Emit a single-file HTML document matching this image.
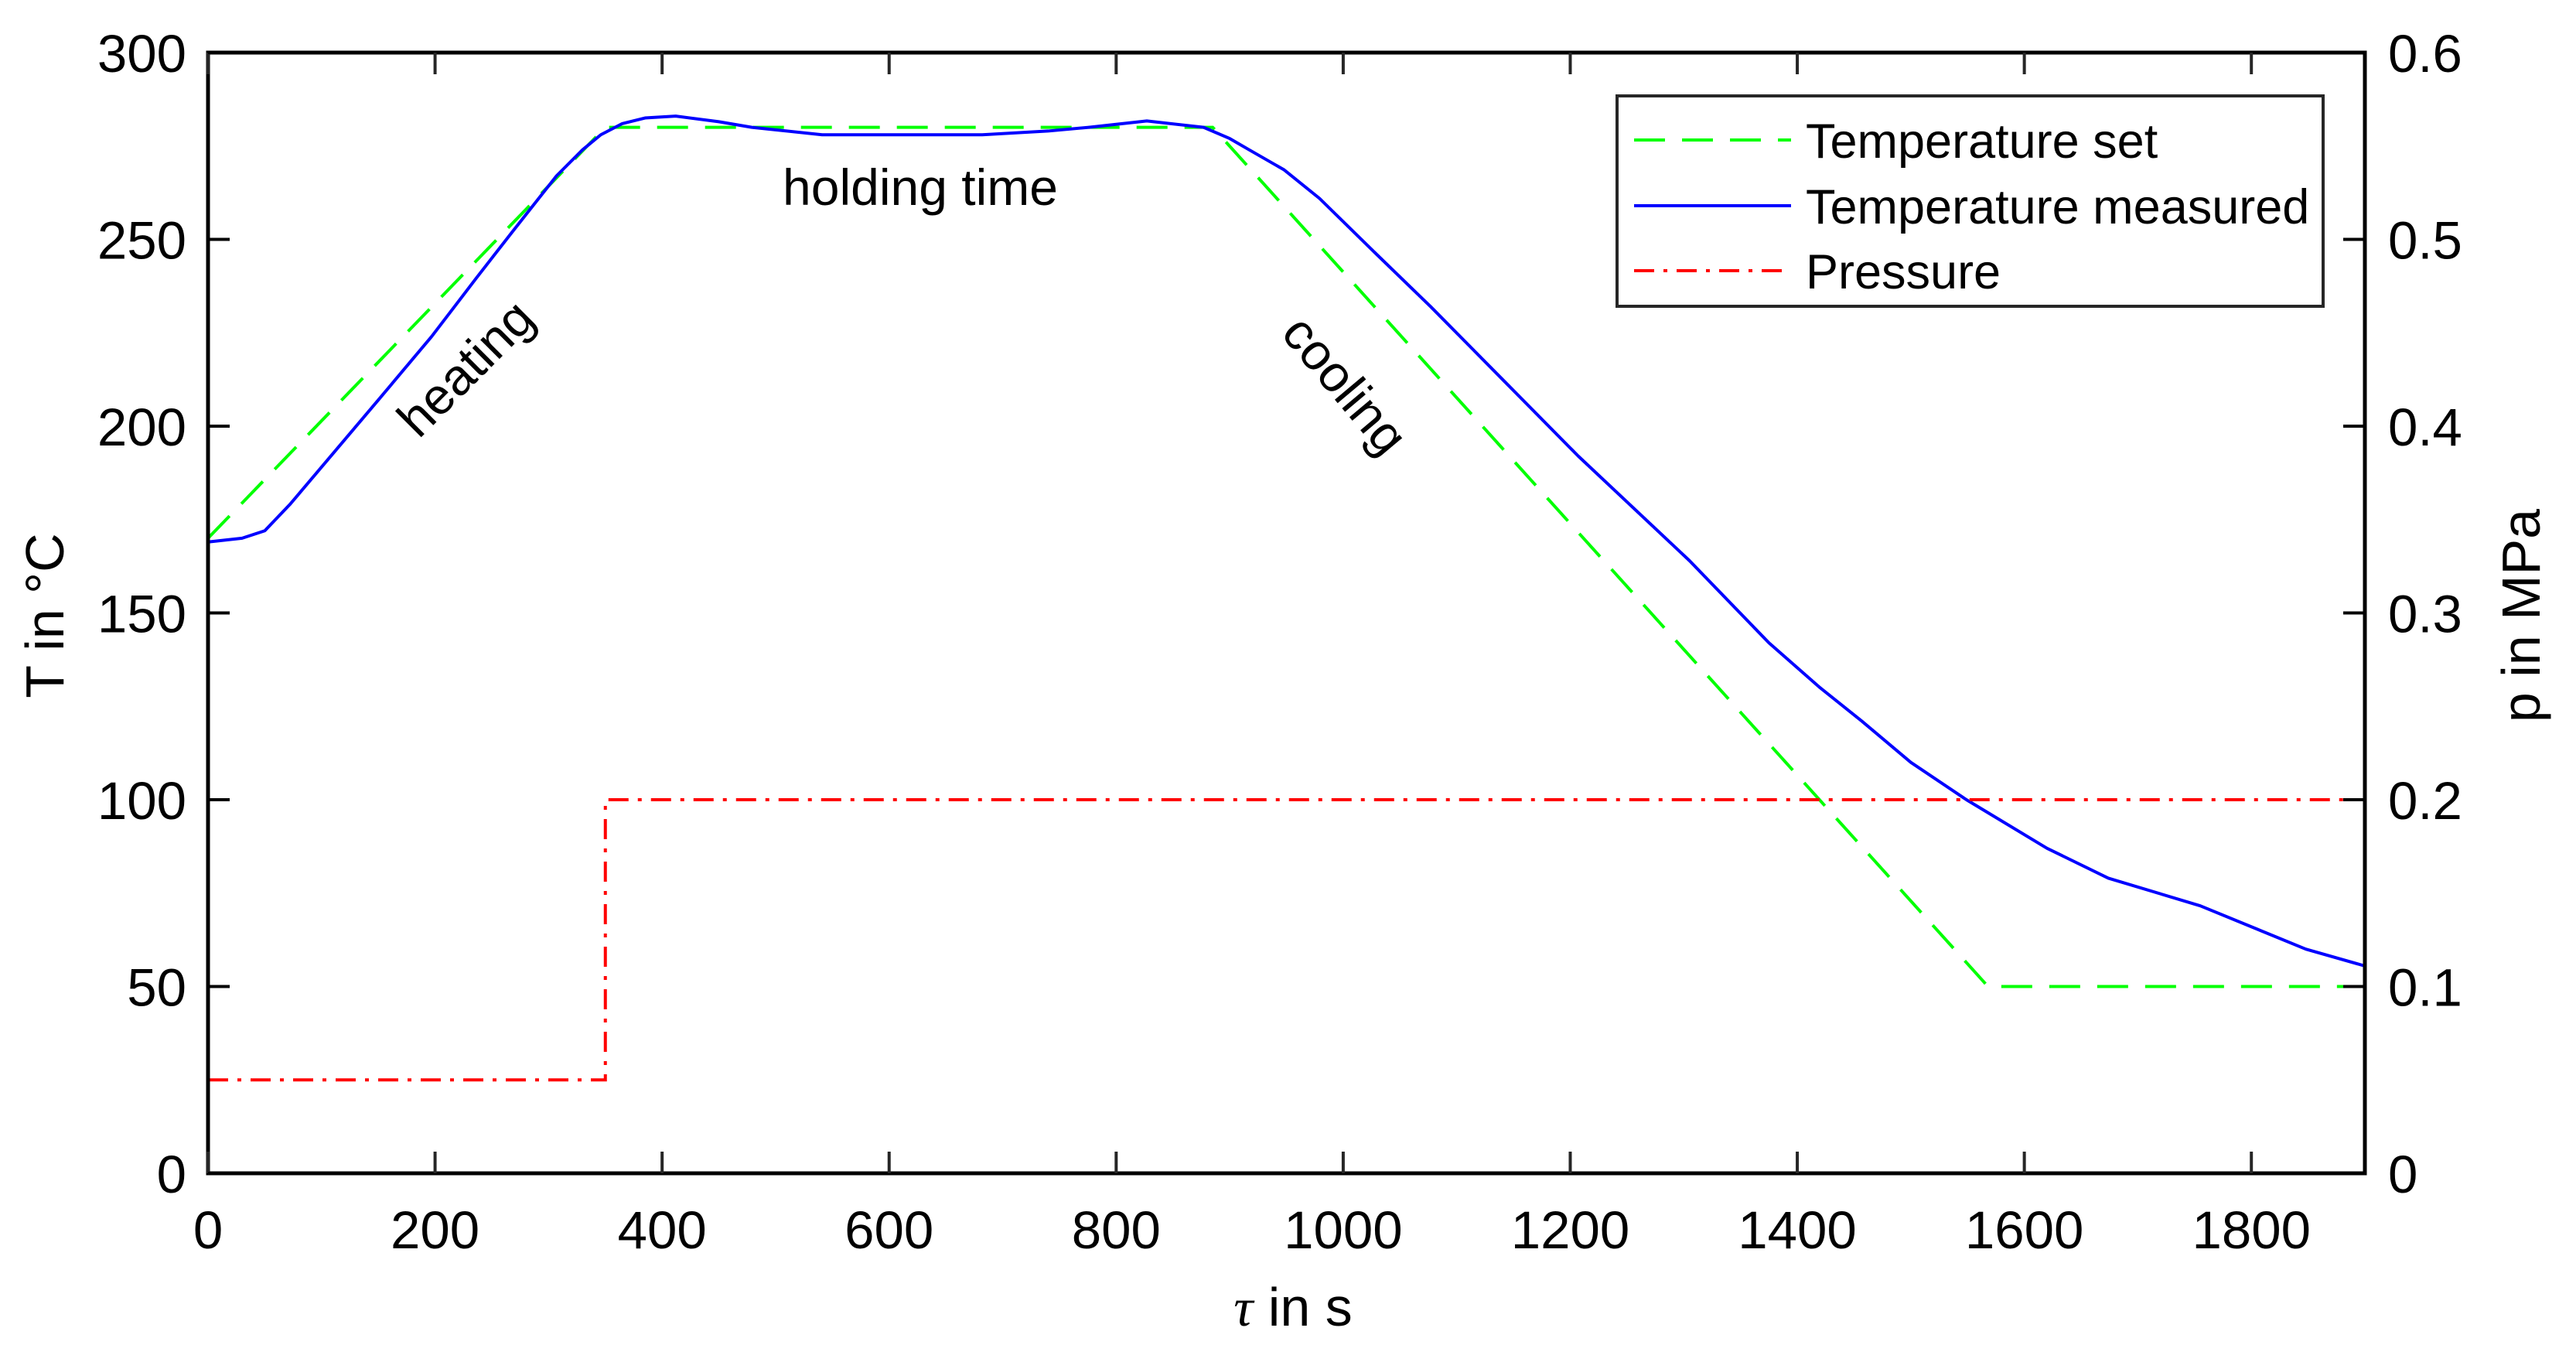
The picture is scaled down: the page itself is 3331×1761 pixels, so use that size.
<!DOCTYPE html>
<html><head><meta charset="utf-8"><style>html,body{margin:0;padding:0;background:#fff}svg{display:block}text{font-family:"Liberation Sans",sans-serif;fill:#000}</style></head>
<body>
<svg id="chart" width="3331" height="1761" xmlns="http://www.w3.org/2000/svg"></svg>
<script>
const setTime=[0,350,885,1568,1900];
const setTemp=[170,280,280,50,50];
const measTime=[0,30,50,72,111,150,197,236,268,307,330,346,365,385,412,450,479,541,600,682,740,776,827,877,900,917,948,979,1026,1077,1142,1207,1305,1375,1420,1457,1500,1549,1620,1674,1755,1848,1900];
const measTemp=[169,170,172,179,193,207,224,239.5,252,267,274,278,281,282.5,283,281.5,280,278,278,278,279,280,281.7,280,277,274,268.6,261,247,232,212,192,164,142,130,121,110,100,87,79,71.6,60,55.5];
const presTime=[0,350,350,1900];
const presVal=[0.05,0.05,0.2,0.2];
const xTicks=[0,200,400,600,800,1000,1200,1400,1600,1800];
const yTicks=[0,50,100,150,200,250,300];
const y2Ticks=[0,0.1,0.2,0.3,0.4,0.5,0.6];
const L=269,R=3058,T=68,B=1517;
const xs=v=>L+v/1900*(R-L), ys=v=>B-v/300*(B-T), y2s=v=>B-v/0.6*(B-T);
const svg=document.getElementById('chart');const NS='http://www.w3.org/2000/svg';
function mk(tag,attrs,parent){const e=document.createElementNS(NS,tag);for(const k in attrs)e.setAttribute(k,attrs[k]);(parent||svg).appendChild(e);return e;}
function txt(s,attrs){const e=mk('text',attrs);e.textContent=s;return e;}
let d=setTime.map((t,i)=>(i?'L':'M')+xs(t)+','+ys(setTemp[i])).join('');
let e=mk('path',{d:d,fill:'none',stroke:'#00ff00','stroke-width':4,'stroke-dasharray':'40,22'});


d=measTime.map((t,i)=>(i?'L':'M')+xs(t)+','+ys(measTemp[i])).join('');
e=mk('path',{d:d,fill:'none',stroke:'#0000ff','stroke-width':4,'stroke-linejoin':'round'});


d=presTime.map((t,i)=>(i?'L':'M')+xs(t)+','+y2s(presVal[i])).join('');
e=mk('path',{d:d,fill:'none',stroke:'#ff0000','stroke-width':4,'stroke-dasharray':'26,12,5,12'});


e=mk('rect',{x:L,y:T,width:R-L,height:B-T,fill:'none',stroke:'#000','stroke-width':5});


xTicks.forEach(v=>{const x=xs(v);mk('line',{x1:x,x2:x,y1:B,y2:B-28,stroke:'#262626','stroke-width':4});mk('line',{x1:x,x2:x,y1:T,y2:T+28,stroke:'#262626','stroke-width':4});
 const t=txt(String(v),{x:x,y:B+97,'font-size':69,'text-anchor':'middle',fill:'#262626'});
 
 });
yTicks.forEach(v=>{const y=ys(v);mk('line',{x1:L,x2:L+28,y1:y,y2:y,stroke:'#000','stroke-width':4});
 const t=txt(String(v),{x:L-28,y:y+25,'font-size':69,'text-anchor':'end'});
 
 });
y2Ticks.forEach(v=>{const y=y2s(v);mk('line',{x1:R,x2:R-28,y1:y,y2:y,stroke:'#000','stroke-width':4});
 const t=txt(v===0?'0':v.toFixed(1),{x:R+30,y:y+25,'font-size':69});
 
 });
e=txt('T in °C',{x:0,y:0,'font-size':70,'text-anchor':'middle',transform:'translate(82,796) rotate(-90)'});


e=txt('p in MPa',{x:0,y:0,'font-size':70,'text-anchor':'middle',transform:'translate(3284,796) rotate(-90)'});


e=mk('text',{x:1672,y:1714,'font-size':70,'text-anchor':'middle'});
e.innerHTML='<tspan font-style="italic" font-family="Liberation Serif">τ</tspan> in s';


e=txt('holding time',{x:1190,y:265,'font-size':66,'text-anchor':'middle'});


e=txt('heating',{x:0,y:0,'font-size':66,'text-anchor':'middle',transform:'translate(618,492) rotate(-45)'});


e=txt('cooling',{x:0,y:0,'font-size':66,'text-anchor':'middle',transform:'translate(1722,512) rotate(50)'});


e=mk('rect',{x:2091,y:124,width:913,height:272,fill:'#fff',stroke:'#262626','stroke-width':4});


const leg=[['Temperature set','#00ff00','40,22',181],['Temperature measured','#0000ff','',266],['Pressure','#ff0000','26,12,5,12',350]];
leg.forEach(l=>{mk('line',{x1:2113,x2:2316,y1:l[3],y2:l[3],stroke:l[1],'stroke-width':4,'stroke-dasharray':l[2]||'none'});
 const t=txt(l[0],{x:2335,y:l[3]+23,'font-size':63});
 
 });
</script>
</body></html>
